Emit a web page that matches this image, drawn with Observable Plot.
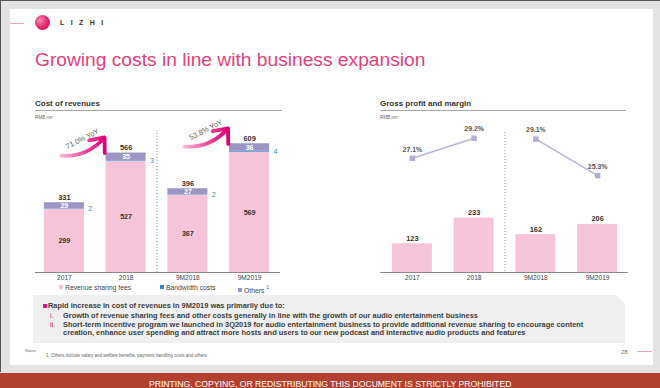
<!DOCTYPE html>
<html><head><meta charset="utf-8">
<script src="https://cdn.jsdelivr.net/npm/d3@7"></script>
<script src="https://cdn.jsdelivr.net/npm/@observablehq/plot@0.6"></script>
<style>
html,body{margin:0;padding:0;}
body{width:660px;height:388px;overflow:hidden;font-family:"Liberation Sans",Arial,sans-serif;}
#page{position:relative;width:660px;height:388px;background:#e3e3e3;overflow:hidden;}
.a{position:absolute;white-space:nowrap;}
.chart{position:absolute;}
.chart svg{overflow:visible;}
.sec{font-weight:bold;font-size:8px;line-height:10px;color:#333;}
.rmb{font-style:italic;font-size:4.5px;line-height:6px;color:#666;}
.rule{height:1px;background:#a6a6a6;}
.lg{font-size:6.8px;line-height:8px;color:#444;}
.sq{display:inline-block;width:4px;height:4px;margin-right:2px;vertical-align:0.5px;}
.bt{font-size:7.45px;font-weight:bold;line-height:8px;color:#3e3e3e;}
.rn{color:#e5157d;font-weight:normal;}
</style></head>
<body>
<div id="page">
  <div class="a" style="left:0;top:0;width:659px;height:371px;border-left:1px solid #555;border-top:1px solid #555;"></div>
  <div class="a" style="left:10px;top:9px;width:643px;height:356px;background:#fff;"></div>
  <!-- header -->
  <div class="a" style="left:10px;top:22.5px;width:14px;height:1px;background:#f2a7c1;"></div>
  <div class="a" style="left:35px;top:15px;width:15px;height:15px;border-radius:50%;background:radial-gradient(circle at 35% 35%,#f58bb3 0%,#e2246a 55%,#c0104f 100%);"></div>
  <div class="a" style="left:60px;top:18px;font-size:7px;line-height:10px;font-weight:bold;letter-spacing:6.4px;color:#333;">LIZHI</div>
  <div class="a" style="left:35px;top:50px;font-size:19.2px;line-height:19px;color:#e6407a;">Growing costs in line with business expansion</div>
  <!-- section headers -->
  <div class="a sec" style="left:35px;top:99px;">Cost of revenues</div>
  <div class="a rule" style="left:35px;top:110px;width:247px;"></div>
  <div class="a rmb" style="left:35px;top:114.5px;">RMB mn</div>
  <div class="a sec" style="left:380px;top:99px;">Gross profit and margin</div>
  <div class="a rule" style="left:380px;top:110px;width:246px;"></div>
  <div class="a rmb" style="left:380px;top:114.5px;">RMB mn</div>
  <!-- charts -->
  <div id="leftChart" class="chart" style="left:0;top:115px;"></div>
  <div id="rightBars" class="chart" style="left:340px;top:115px;"></div>
  <div id="rightLine" class="chart" style="left:340px;top:115px;"></div>
  <!-- legend -->
  <div id="legend"></div>
  <!-- commentary box -->
  <div class="a" style="left:33px;top:295px;width:592px;height:48px;background:#efefef;clip-path:polygon(0 0,calc(100% - 9px) 0,100% 9px,100% 100%,0 100%);"></div>
  <div class="a" style="left:43px;top:304px;width:3.5px;height:3.5px;background:#e5157d;"></div>
  <div class="a bt" style="left:48px;top:302px;">Rapid increase in cost of revenues in 9M2019 was primarily due to:</div>
  <div class="a bt rn" style="left:50px;top:312px;">i.</div>
  <div class="a bt" style="left:63px;top:312px;">Growth of revenue sharing fees and other costs generally in line with the growth of our audio entertainment business</div>
  <div class="a bt rn" style="left:50px;top:320.5px;">ii.</div>
  <div class="a bt" style="left:63px;top:320.5px;">Short-term incentive program we launched in 3Q2019 for audio entertainment business to provide additional revenue sharing to encourage content</div>
  <div class="a bt" style="left:63px;top:328.5px;">creation, enhance user spending and attract more hosts and users to our new podcast and interactive audio products and features</div>
  <!-- notes -->
  <div class="a" style="left:25px;top:348px;font-size:4px;line-height:5px;color:#666;">Notes:</div>
  <div class="a" style="left:46px;top:352.5px;font-size:4.5px;line-height:5px;color:#666;">1. Others include salary and welfare benefits, payment handling costs and others</div>
  <div class="a" style="left:621px;top:348px;font-size:6px;line-height:8px;color:#777;">28</div>
  <div class="a" style="left:637px;top:351px;width:15px;height:1px;background:#f0a0bc;"></div>
  <!-- footer -->
  <div class="a" style="left:0;top:373px;width:660px;height:15px;background:#b4402f;text-align:center;">
    <span style="display:inline-block;color:#fff;font-size:9.5px;line-height:15px;transform:scaleX(0.91);transform-origin:center;">PRINTING, COPYING, OR REDISTRIBUTING THIS DOCUMENT IS STRICTLY PROHIBITED</span>
  </div>
</div>
<script>
// ---- data ----
const categories = ["2017", "2018", "9M2018", "9M2019"];
const periodGroup = ["FY", "FY", "9M", "9M"];
const revenueSharingFees = [299, 527, 367, 569];
const bandwidthCosts = [2, 3, 2, 4];
const otherCosts = [29, 35, 27, 36];
const totalCost = [331, 566, 396, 609];
const grossProfit = [123, 233, 162, 206];
const grossMargin = [27.1, 29.2, 29.1, 25.3];
const yoyGrowth = [
  {from: "2017", to: "2018", label: "71.0% YoY"},
  {from: "9M2018", to: "9M2019", label: "53.8% YoY"}
];
const seriesNames = ["Revenue sharing fees", "Bandwidth costs", "Others"];

// ---- styling ----
const seriesColors = ["#f6c4d8", "#2f8cc6", "#9c95c4"];
const HW = 0.324;
const font = '"Liberation Sans", Arial, sans-serif';
const baseStyle = {fontFamily: font, fontSize: "7px", background: "transparent", overflow: "visible", color: "#333"};
const idx = categories.map((_, i) => i);

const costRows = idx.flatMap(i => {
  const r = revenueSharingFees[i], b = bandwidthCosts[i], o = otherCosts[i];
  return [
    {i, series: seriesNames[0], y1: 0, y2: r, v: r},
    {i, series: seriesNames[1], y1: r, y2: r + b, v: b},
    {i, series: seriesNames[2], y1: r + b, y2: r + b + o, v: o}
  ];
});
const totalRows = idx.map(i => ({i, y: revenueSharingFees[i] + bandwidthCosts[i] + otherCosts[i], v: totalCost[i]}));
const yoyRows = yoyGrowth.map(d => {
  const f = categories.indexOf(d.from), t = categories.indexOf(d.to);
  const top = Math.max(totalCost[f], totalCost[t]);
  return {label: d.label, x1: f - 0.05, x2: t - 0.35, y1: top - 13, y2: top + 73, lx: f + 0.29, ly: top + 66};
});

const gradientDefs = () => {
  const defs = document.createElementNS("http://www.w3.org/2000/svg", "defs");
  defs.innerHTML = '<linearGradient id="yoyGrad" x1="0" y1="0" x2="1" y2="0">' +
    '<stop offset="0" stop-color="#f8b6d4"/><stop offset="0.55" stop-color="#ec4596"/><stop offset="1" stop-color="#e2007b"/></linearGradient>';
  return defs;
};

const left = Plot.plot({
  width: 340, height: 180,
  marginLeft: 35, marginRight: 60, marginTop: 9, marginBottom: 23,
  x: {domain: [-0.5, 3.5], range: [33, 280]},
  y: {domain: [0, 700], axis: null},
  color: {domain: seriesNames, range: seriesColors},
  style: baseStyle,
  marks: [
    gradientDefs,
    Plot.rectY(costRows, {x1: d => d.i - HW, x2: d => d.i + HW, y1: "y1", y2: "y2", fill: "series"}),
    Plot.ruleY([0], {stroke: "#8a8a8a", strokeWidth: 1}),
    Plot.ruleX([1.5], {y1: 0, y2: 670, stroke: "#9a9a9a", strokeDasharray: "1.2,1.8"}),
    Plot.axisX({ticks: idx, tickFormat: i => categories[i], tickSize: 0, tickPadding: 3, fontSize: 6.6, fill: "#444", label: null}),
    Plot.text(costRows.filter(d => d.series === seriesNames[0]), {x: "i", y: d => (d.y1 + d.y2) / 2, text: "v", fontWeight: "bold", fontSize: 7.2, fill: "#333"}),
    Plot.text(costRows.filter(d => d.series === seriesNames[2]), {x: "i", y: d => (d.y1 + d.y2) / 2, text: "v", fontWeight: "bold", fontSize: 7.2, fill: "#fff"}),
    Plot.text(costRows.filter(d => d.series === seriesNames[1]), {x: "i", y: d => (d.y1 + d.y2) / 2, dx: 26, text: "v", fontSize: 7.4, fill: "#3b8fc2"}),
    Plot.text(totalRows, {x: "i", y: "y", dy: -5.5, text: "v", fontWeight: "bold", fontSize: 7.4, fill: "#333"}),
    Plot.arrow(yoyRows, {x1: "x1", y1: "y1", x2: "x2", y2: "y2", bend: -28, stroke: "url(#yoyGrad)", strokeWidth: 3.8, headLength: 9, headAngle: 80}),
    Plot.text(yoyRows, {x: "lx", y: "ly", text: "label", rotate: -27, fontSize: 7.4, fill: "#666"})
  ]
});
document.getElementById("leftChart").append(left);

const profitRows = idx.map(i => ({i, v: grossProfit[i]}));
const rightBars = Plot.plot({
  width: 320, height: 180,
  marginLeft: 40, marginRight: 32, marginTop: 17, marginBottom: 23,
  x: {domain: [-0.5, 3.5], range: [41, 288]},
  y: {domain: [0, 600], axis: null},
  style: baseStyle,
  marks: [
    Plot.rectY(profitRows, {x1: d => d.i - HW, x2: d => d.i + HW, y1: 0, y2: "v", fill: seriesColors[0]}),
    Plot.ruleY([0], {stroke: "#8a8a8a", strokeWidth: 1}),
    Plot.ruleX([1.5], {stroke: "#9a9a9a", strokeDasharray: "1.2,1.8"}),
    Plot.axisX({ticks: idx, tickFormat: i => categories[i], tickSize: 0, tickPadding: 3, fontSize: 6.6, fill: "#444", label: null}),
    Plot.text(profitRows, {x: "i", y: "v", dy: -5.5, text: "v", fontWeight: "bold", fontSize: 7.4, fill: "#333"})
  ]
});
document.getElementById("rightBars").append(rightBars);

const marginRows = idx.map(i => ({i, m: grossMargin[i], group: periodGroup[i]}));
const rightLine = Plot.plot({
  width: 320, height: 180,
  marginLeft: 40, marginRight: 32, marginTop: 15, marginBottom: 117,
  x: {domain: [-0.5, 3.5], range: [41, 288], axis: null},
  y: {domain: [25, 30], axis: null},
  style: baseStyle,
  marks: [
    Plot.line(marginRows, {x: "i", y: "m", z: "group", stroke: "#bcb7dc", strokeWidth: 1.6}),
    Plot.dot(marginRows, {x: "i", y: "m", symbol: "square", r: 3.1, fill: "#b3aed6"}),
    Plot.text(marginRows, {x: "i", y: "m", dy: -9, text: d => d.m.toFixed(1) + "%", fontSize: 6.9, fontWeight: "bold", fill: "#555"})
  ]
});
document.getElementById("rightLine").append(rightLine);

// legend (HTML, below the left chart)
const legendPos = [59, 160, 238];
const lg = document.getElementById("legend");
seriesNames.forEach((name, k) => {
  const el = document.createElement("div");
  el.className = "a lg";
  el.style.left = legendPos[k] + "px";
  el.style.top = "283.5px";
  el.innerHTML = `<span class="sq" style="background:${seriesColors[k]}"></span>${name}${k === 2 ? '<sup style="font-size:4.5px;vertical-align:4px;margin-left:2px">1</sup>' : ''}`;
  lg.append(el);
});
</script>
</body></html>
